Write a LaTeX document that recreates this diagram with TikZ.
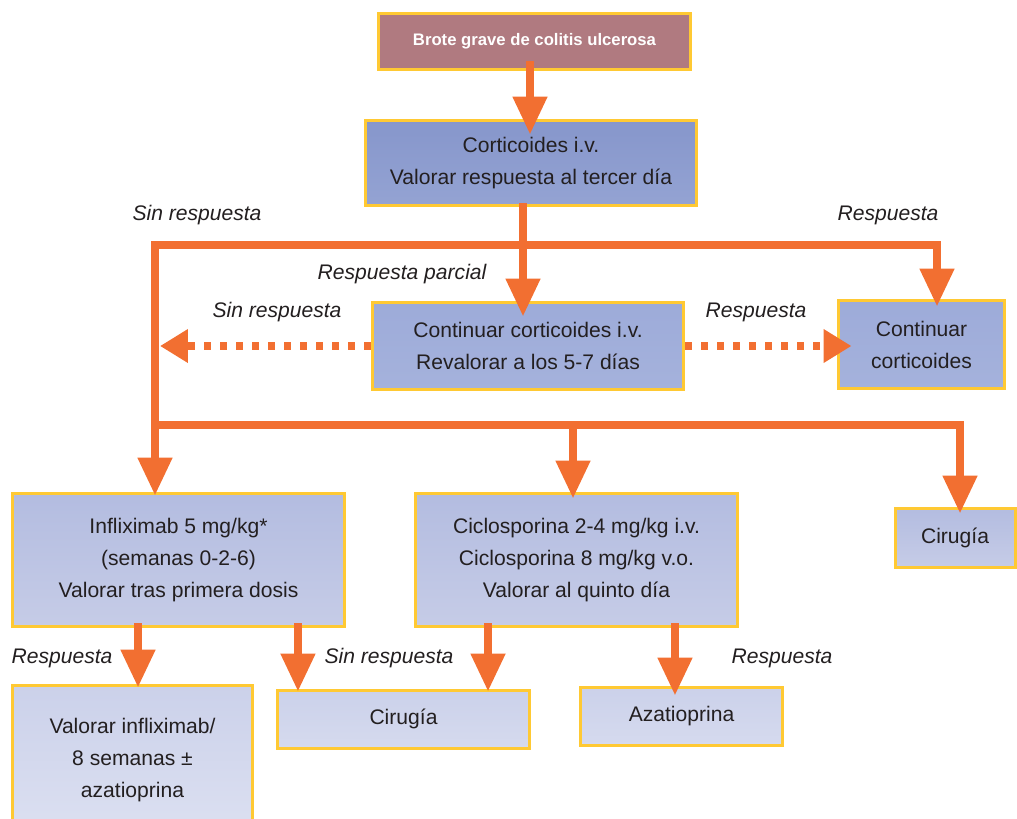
\documentclass[tikz,border=0pt]{standalone}
\usepackage{fontspec}
\setmainfont{Liberation Sans}
\usetikzlibrary{arrows.meta}
\definecolor{naranja}{HTML}{F26F31}
\definecolor{amarillo}{HTML}{FFC933}
\definecolor{malva}{HTML}{B07A80}
\definecolor{gristexto}{HTML}{231F20}
\definecolor{azulA}{HTML}{8696CB}
\definecolor{azulB}{HTML}{94A3D3}
\definecolor{azulC}{HTML}{9DABD9}
\definecolor{azulD}{HTML}{A5B2DC}
\definecolor{azulE}{HTML}{B3BCE0}
\definecolor{azulF}{HTML}{C6CCE7}
\definecolor{azulG}{HTML}{CBD1EA}
\definecolor{azulH}{HTML}{DCE0F1}

\begin{document}
\begin{tikzpicture}[x=0.02cm, y=-0.02cm, >={Triangle[length=0.76cm,width=0.66cm]},
	caja/.style={draw=amarillo, line width=0.06cm, align=center, text=gristexto, inner sep=0pt, font=\fontsize{12}{18.2}\selectfont},
	flecha/.style={draw=naranja, line width=0.16cm},
	puntos/.style={draw=naranja, line width=0.16cm, dash pattern=on 0.14cm off 0.18cm, -{Triangle[length=0.56cm,width=0.64cm]}},
	etiqueta/.style={text=gristexto, font=\fontsize{12}{14}\selectfont\itshape}]

				\useasboundingbox(0,0)rectangle(1017,818);
				\clip(0,0)rectangle(1017,818);

				% cajas
				\node[caja, fill=malva, text=white, minimum width=6.26cm, minimum height=1.14cm, font=\fontsize{9.5}{11}\selectfont\bfseries](brote) at (534.5,41.5){Brote grave de colitis ulcerosa};
				\node[caja, top color=azulA, bottom color=azulB, minimum width=6.64cm, minimum height=1.72cm](cort) at (531,163){Corticoides i.v.\\Valorar respuesta al tercer día};
				\node[caja, top color=azulC, bottom color=azulD, minimum width=6.24cm, minimum height=1.76cm](contiv) at (528,346){Continuar corticoides i.v.\\Revalorar a los 5-7 días};
				\node[caja, top color=azulC, bottom color=azulD, minimum width=3.34cm, minimum height=1.78cm](contc) at (921.5,344.5){Continuar\\corticoides};
				\node[caja, top color=azulE, bottom color=azulF, minimum width=6.66cm, minimum height=2.68cm](inflix) at (178.5,560){Infliximab 5 mg/kg*\\(semanas 0-2-6)\\Valorar tras primera dosis};
				\node[caja, top color=azulE, bottom color=azulF, minimum width=6.46cm, minimum height=2.68cm](ciclo) at (576.5,560){Ciclosporina 2-4 mg/kg i.v.\\Ciclosporina 8 mg/kg v.o.\\Valorar al quinto día};
				\node[caja, top color=azulE, bottom color=azulF, minimum width=2.4cm, minimum height=1.18cm](ciruA) at (955,537.5){Cirugía};
				\node[caja, top color=azulG, bottom color=azulH, minimum width=4.82cm, minimum height=3cm](valor) at (132.5,760){Valorar infliximab/\\8 semanas ±\\azatioprina};
				\node[caja, top color=azulG, bottom color=azulH!60!azulG, minimum width=5.06cm, minimum height=1.16cm](ciruB) at (403.5,719){Cirugía};
				\node[caja, top color=azulG, bottom color=azulH!60!azulG, minimum width=4.06cm, minimum height=1.16cm](azat) at (681.5,716){Azatioprina};

				% puntos de union
				\coordinate(izq1) at (155,245);
				\coordinate(cen1) at (523,245);
				\coordinate(der1) at (937,245);
				\coordinate(izq2) at (155,425);
				\coordinate(cen2) at (573,425);
				\coordinate(der2) at (960,425);

				% flechas
				\draw[flecha,->,shorten >=-0.32cm]([xshift=-0.09cm,yshift=0.2cm]brote.south)coordinate(a1)--(a1 |- cort.north);
				\draw[flecha,->,shorten >=-0.32cm]([yshift=0.08cm]cort.south -| cen1)--(contiv.north -| cen1);
				\draw[flecha,<->,shorten <=-0.08cm,shorten >=-0.16cm](inflix.north -| izq1)--(izq1)--(der1)--(contc.north -| der1);
				\draw[flecha,->,shorten >=-0.14cm](izq2)--(der2)--(ciruA.north -| der2);
				\draw[flecha,->,shorten >=-0.14cm](cen2)--(ciclo.north -| cen2);
				\draw[puntos](contiv.west)--([xshift=0.1cm]izq1 |- contiv.west);
				\draw[puntos,shorten >=-0.3cm](contiv.east)--(contc.west |- contiv.east);
				\draw[flecha,->,shorten >=-0.08cm]([xshift=-0.81cm,yshift=0.1cm]inflix.south)coordinate(b1)--(b1 |- valor.north);
				\draw[flecha,->,shorten >=-0.06cm]([xshift=2.39cm,yshift=0.1cm]inflix.south)coordinate(b2)--(b2 |- ciruB.north);
				\draw[flecha,->,shorten >=-0.06cm]([xshift=-1.77cm,yshift=0.1cm]ciclo.south)coordinate(b3)--(b3 |- ciruB.north);
				\draw[flecha,->,shorten >=-0.2cm]([xshift=1.97cm,yshift=0.1cm]ciclo.south)coordinate(b4)--(b4 |- azat.north);

				% etiquetas
				\node[etiqueta](sr1) at (197,215){Sin respuesta};
				\node[etiqueta](r1) at (888,215){Respuesta};
				\node[etiqueta](rp) at (402,274){Respuesta parcial};
				\node[etiqueta](sr2) at (277,312){Sin respuesta};
				\node[etiqueta](r2) at (756,312){Respuesta};
				\node[etiqueta](r3) at (62,658){Respuesta};
				\node[etiqueta](sr3) at (389,658){Sin respuesta};
				\node[etiqueta](r4) at (782,658){Respuesta};

\end{tikzpicture}
\end{document}
